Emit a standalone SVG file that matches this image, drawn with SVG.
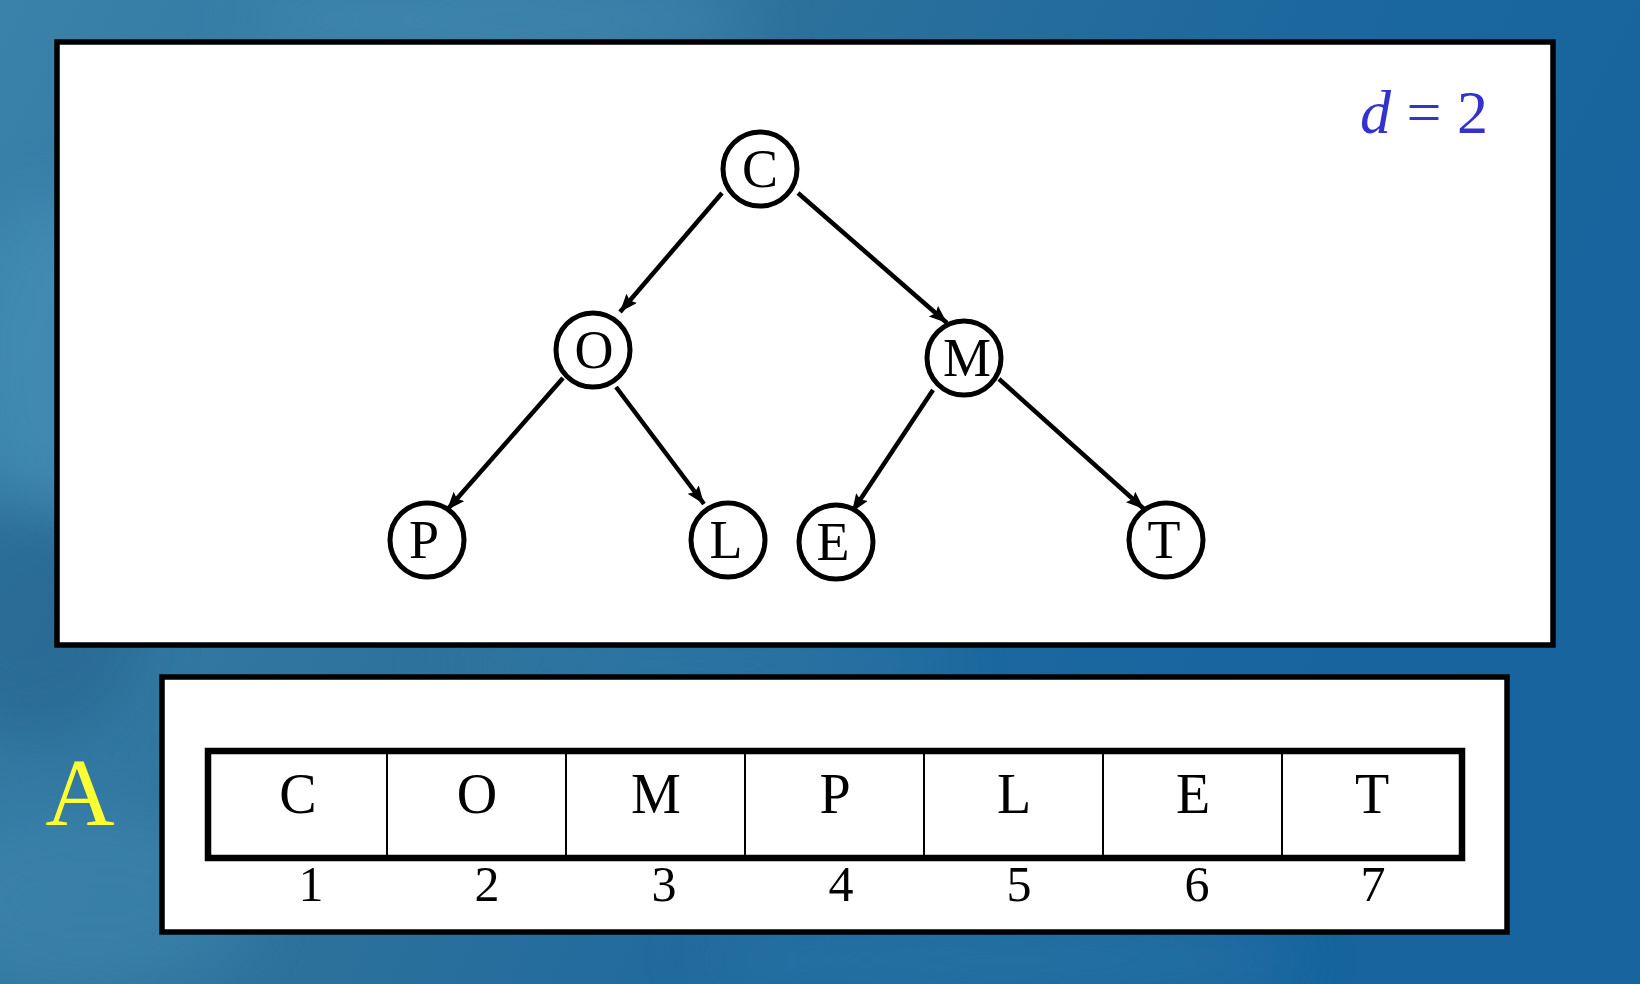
<svg xmlns="http://www.w3.org/2000/svg" width="1640" height="984" viewBox="0 0 1640 984">
  <defs>
    <linearGradient id="bg" x1="0" y1="0" x2="1" y2="0.3">
      <stop offset="0" stop-color="#3a82aa"/>
      <stop offset="0.45" stop-color="#2c719c"/>
      <stop offset="0.75" stop-color="#1b679e"/>
      <stop offset="1" stop-color="#17649e"/>
    </linearGradient>
    <filter id="soft" x="-50%" y="-50%" width="200%" height="200%">
      <feGaussianBlur stdDeviation="30"/>
    </filter>
    <marker id="arrow" markerUnits="userSpaceOnUse" markerWidth="22" markerHeight="16" refX="18" refY="7" orient="auto">
      <path d="M0,0 L18,7 L0,14 L3,7 z" fill="#000"/>
    </marker>
    <style>
      .panel { fill: #fff; stroke: #000; stroke-width: 5.5; }
      .node circle { fill: #fff; stroke: #000; stroke-width: 5; }
      .node text { font-family: "Liberation Serif", "Times New Roman", serif; font-size: 54px; text-anchor: middle; fill: #000; }
      .edge { stroke: #000; stroke-width: 4.5; fill: none; marker-end: url(#arrow); }
      .cell { font-family: "Liberation Serif", "Times New Roman", serif; font-size: 56px; text-anchor: middle; fill: #000; }
      .idx { font-family: "Liberation Serif", "Times New Roman", serif; font-size: 50px; text-anchor: middle; fill: #000; }
      .label { font-family: "Liberation Serif", "Times New Roman", serif; }
    </style>
  </defs>

  <!-- background -->
  <rect x="0" y="0" width="1640" height="984" fill="url(#bg)"/>
  <g filter="url(#soft)" opacity="0.55">
    <ellipse cx="60" cy="360" rx="90" ry="160" fill="#4a94bb"/>
    <ellipse cx="30" cy="620" rx="110" ry="120" fill="#20618b"/>
    <ellipse cx="90" cy="900" rx="160" ry="90" fill="#3f87ae"/>
    <ellipse cx="500" cy="20" rx="260" ry="40" fill="#4a90b8"/>
    <ellipse cx="1000" cy="960" rx="300" ry="40" fill="#2f79a6"/>
    <ellipse cx="700" cy="665" rx="260" ry="20" fill="#3b84ad"/>
  </g>

  <!-- tree panel -->
  <rect class="panel" x="57" y="42" width="1496" height="603"/>

  <text class="label" x="1360" y="133" font-size="62" fill="#3333cc"><tspan font-style="italic">d</tspan> = 2</text>

  <g id="connectors">
    <line class="edge" x1="722" y1="193" x2="620" y2="312"/>
    <line class="edge" x1="798" y1="193" x2="947" y2="323"/>
    <line class="edge" x1="563" y1="378" x2="447" y2="510"/>
    <line class="edge" x1="616" y1="387" x2="704" y2="504"/>
    <line class="edge" x1="933" y1="390" x2="852" y2="512"/>
    <line class="edge" x1="999" y1="379" x2="1144" y2="509"/>
  </g>

  <g id="node-C" class="node"><circle cx="760" cy="169" r="37"/><text x="760" y="187">C</text></g>
  <g id="node-O" class="node"><circle cx="593" cy="350" r="37"/><text x="594" y="368">O</text></g>
  <g id="node-M" class="node"><circle cx="964" cy="358" r="37"/><text x="967" y="376">M</text></g>
  <g id="node-P" class="node"><circle cx="427" cy="540" r="37"/><text x="424" y="558">P</text></g>
  <g id="node-L" class="node"><circle cx="728" cy="540" r="37"/><text x="726" y="558">L</text></g>
  <g id="node-E" class="node"><circle cx="836" cy="542" r="37"/><text x="833" y="560">E</text></g>
  <g id="node-T" class="node"><circle cx="1166" cy="540" r="37"/><text x="1164" y="558">T</text></g>

  <!-- array panel -->
  <text class="label" x="80" y="825" font-size="96" fill="#ffff33" text-anchor="middle">A</text>
  <rect class="panel" x="162" y="677" width="1345" height="255"/>

  <g id="array">
    <rect x="208" y="751" width="1254" height="107" fill="#fff" stroke="#000" stroke-width="6.5"/>
    <g stroke="#000" stroke-width="2">
      <line x1="387" y1="751" x2="387" y2="858"/>
      <line x1="566" y1="751" x2="566" y2="858"/>
      <line x1="745" y1="751" x2="745" y2="858"/>
      <line x1="924" y1="751" x2="924" y2="858"/>
      <line x1="1103" y1="751" x2="1103" y2="858"/>
      <line x1="1282" y1="751" x2="1282" y2="858"/>
    </g>
    <text class="cell" x="298" y="813">C</text>
    <text class="cell" x="477" y="813">O</text>
    <text class="cell" x="656" y="813">M</text>
    <text class="cell" x="835" y="813">P</text>
    <text class="cell" x="1014" y="813">L</text>
    <text class="cell" x="1193" y="813">E</text>
    <text class="cell" x="1372" y="813">T</text>
    <text class="idx" x="311" y="901">1</text>
    <text class="idx" x="487" y="901">2</text>
    <text class="idx" x="664" y="901">3</text>
    <text class="idx" x="841" y="901">4</text>
    <text class="idx" x="1019" y="901">5</text>
    <text class="idx" x="1197" y="901">6</text>
    <text class="idx" x="1373" y="901">7</text>
  </g>
</svg>
